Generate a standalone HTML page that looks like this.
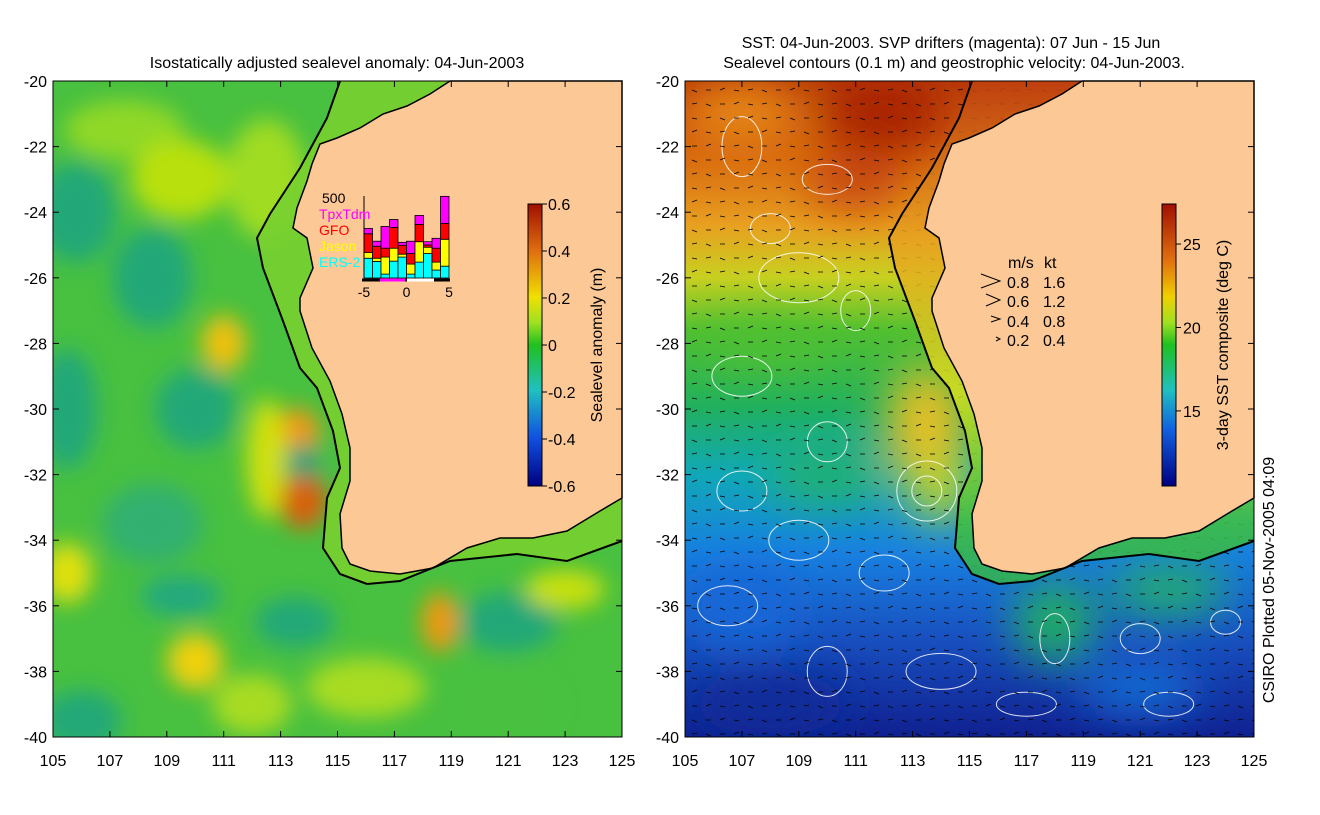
<!DOCTYPE html>
<html><head><meta charset="utf-8"><style>
body{margin:0;background:#fff;width:1320px;height:810px;overflow:hidden;font-family:"Liberation Sans",sans-serif}
svg text{font-family:"Liberation Sans",sans-serif}
</style></head><body>
<svg id="s" width="1320" height="810" viewBox="0 0 1320 810" xmlns="http://www.w3.org/2000/svg">
<defs>
<filter id="bl" x="-50%" y="-50%" width="200%" height="200%"><feGaussianBlur stdDeviation="11"/></filter>
<filter id="bl2" x="-50%" y="-50%" width="200%" height="200%"><feGaussianBlur stdDeviation="22"/></filter>
<linearGradient id="slaBar" x1="0" y1="0" x2="0" y2="1">
<stop offset="0" stop-color="#a01000"/><stop offset="0.17" stop-color="#e07010"/><stop offset="0.33" stop-color="#f0e000"/><stop offset="0.42" stop-color="#a0e020"/><stop offset="0.5" stop-color="#20c020"/><stop offset="0.66" stop-color="#20c0c0"/><stop offset="0.83" stop-color="#1050e0"/><stop offset="1" stop-color="#000080"/></linearGradient>
<linearGradient id="sstBar" x1="0" y1="0" x2="0" y2="1">
<stop offset="0" stop-color="#a01000"/><stop offset="0.2" stop-color="#e07010"/><stop offset="0.33" stop-color="#f0d000"/><stop offset="0.42" stop-color="#a0e020"/><stop offset="0.5" stop-color="#20c020"/><stop offset="0.66" stop-color="#20c0c0"/><stop offset="0.8" stop-color="#1060e0"/><stop offset="1" stop-color="#000080"/></linearGradient>
<linearGradient id="sstBg" x1="0" y1="0" x2="0" y2="1">
<stop offset="0" stop-color="#b83a08"/><stop offset="0.12" stop-color="#d86a10"/><stop offset="0.22" stop-color="#e8a020"/><stop offset="0.3" stop-color="#c8d020"/><stop offset="0.38" stop-color="#50c030"/><stop offset="0.5" stop-color="#20b060"/><stop offset="0.6" stop-color="#10a8b8"/><stop offset="0.72" stop-color="#1880e0"/><stop offset="0.85" stop-color="#1850c0"/><stop offset="1" stop-color="#102090"/></linearGradient>
<linearGradient id="shelfR" x1="0" y1="81" x2="0" y2="600" gradientUnits="userSpaceOnUse">
<stop offset="0" stop-color="#c04010"/><stop offset="0.3" stop-color="#e8a020"/><stop offset="0.6" stop-color="#d0e020"/><stop offset="0.85" stop-color="#40c040"/><stop offset="1" stop-color="#30b050"/></linearGradient>
<clipPath id="cl"><rect x="53" y="81" width="569" height="656"/></clipPath>
<clipPath id="cr"><rect x="685" y="81" width="569" height="656"/></clipPath>
</defs>
<text x="337" y="68" font-size="16" text-anchor="middle">Isostatically adjusted sealevel anomaly: 04-Jun-2003</text>
<text x="951" y="48" font-size="16" text-anchor="middle">SST: 04-Jun-2003. SVP drifters (magenta): 07 Jun - 15 Jun</text>
<text x="954" y="68" font-size="16" text-anchor="middle">Sealevel contours (0.1 m) and geostrophic velocity: 04-Jun-2003.</text>

<g clip-path="url(#cl)">
<rect x="53" y="81" width="569" height="656" fill="#48c040"/>
<g filter="url(#bl)" id="slaBlobs"></g>
</g>
<g clip-path="url(#cr)">
<rect x="685" y="81" width="569" height="656" fill="url(#sstBg)"/>
<g filter="url(#bl2)" id="sstBlobs"></g>
<g id="contours" fill="none" stroke="#fff" stroke-width="1" opacity="0.85"></g>
<g id="arrows" stroke="#000" stroke-width="1"></g>
</g>
<g id="coastL"></g><g id="coastR"></g>
<rect x="53" y="81" width="569" height="656" fill="none" stroke="#000"/>
<rect x="685" y="81" width="569" height="656" fill="none" stroke="#000"/>
<g id="axes" font-size="16"></g>
<g id="hist"></g>
<rect x="528" y="204" width="14" height="282" fill="url(#slaBar)" stroke="#000"/>
<rect x="1162" y="204" width="14" height="282" fill="url(#sstBar)" stroke="#000"/>
<g id="cbar" font-size="16"></g>
<text transform="translate(602,345) rotate(-90)" font-size="16" text-anchor="middle">Sealevel anomaly (m)</text>
<text transform="translate(1228,345) rotate(-90)" font-size="16" text-anchor="middle">3-day SST composite (deg C)</text>
<text transform="translate(1274,580) rotate(-90)" font-size="16" text-anchor="middle">CSIRO Plotted 05-Nov-2005 04:09</text>
<g id="vleg" font-size="16">
<text x="1008" y="268">m/s</text><text x="1044" y="268">kt</text>
<text x="1007" y="288">0.8</text><text x="1043" y="288">1.6</text>
<text x="1007" y="307">0.6</text><text x="1043" y="307">1.2</text>
<text x="1007" y="327">0.4</text><text x="1043" y="327">0.8</text>
<text x="1007" y="346">0.2</text><text x="1043" y="346">0.4</text>
<path d="M981 274 L1000 281 L981 288 M986 294 L1000 300 L986 306 M991 316 L1000 319 L991 322 M996 337 L1000 339 L996 341" fill="none" stroke="#000"/>
</g>
</svg>
<script>
const NS="http://www.w3.org/2000/svg";
const binLabels=[-5,0,5];
const ers2=[122,102,24,104,129,24,98,151,49,73];
const jason=[35,20,105,80,18,62,126,39,49,166];
const gfo=[116,74,55,128,55,65,107,14,86,98];
const tpx=[33,31,134,49,18,76,55,20,61,167];
const lonTicks=[105,107,109,111,113,115,117,119,121,123,125];
const latTicks=[-20,-22,-24,-26,-28,-30,-32,-34,-36,-38,-40];
const slaTicks=[0.6,0.4,0.2,0,-0.2,-0.4,-0.6];
const sstTicks=[25,20,15];
function mk(p,t,a){const e=document.createElementNS(NS,t);for(const k in a)e.setAttribute(k,a[k]);p.appendChild(e);return e;}
function X(lon,o){return 53+o+(lon-105)*28.45;}
function Y(lat){return 81+(-20-lat)*32.8;}
const ax=document.getElementById('axes');
[0,632].forEach(o=>{
 lonTicks.forEach(l=>{const t=mk(ax,'text',{x:X(l,o),y:766,'text-anchor':'middle'});t.textContent=l;
  
  
  mk(ax,'line',{x1:X(l,o),x2:X(l,o),y1:737,y2:731,stroke:'#000'});mk(ax,'line',{x1:X(l,o),x2:X(l,o),y1:81,y2:87,stroke:'#000'});});
 latTicks.forEach(l=>{const t=mk(ax,'text',{x:47+o,y:Y(l)+6,'text-anchor':'end'});t.textContent=l;
  
  
  mk(ax,'line',{x1:53+o,x2:59+o,y1:Y(l),y2:Y(l),stroke:'#000'});mk(ax,'line',{x1:616+o,x2:622+o,y1:Y(l),y2:Y(l),stroke:'#000'});});
});
const cb=document.getElementById('cbar');
slaTicks.forEach(v=>{const y=204+(0.6-v)/1.2*282;mk(cb,'line',{x1:542,x2:547,y1:y,y2:y,stroke:'#000'});
 const t=mk(cb,'text',{x:548,y:y+6});t.textContent=v===0?'0':(v>0?v.toFixed(1):'-'+(-v).toFixed(1));
 
 });
sstTicks.forEach(v=>{const y=204+(27.4-v)/16.9*282;mk(cb,'line',{x1:1176,x2:1181,y1:y,y2:y,stroke:'#000'});
 const t=mk(cb,'text',{x:1183,y:y+6});t.textContent=v;
 
 });
const sb=document.getElementById('slaBlobs');
const slaB=[[105.8,-24,40,50,'#20a878'],[107.5,-21.5,60,30,'#90d828'],[109.5,-23,50,40,'#b8e010'],[108.5,-26,40,50,'#20a878'],[105.5,-30,30,60,'#20a878'],[111,-28,22,28,'#f0c010'],[112.5,-23,40,60,'#a0dc20'],[110,-30,40,40,'#20a878'],[113.6,-30.7,22,24,'#f09818'],[113.8,-32.8,24,28,'#d86010'],[113.7,-31.6,20,16,'#10a080'],[112.5,-31.5,20,60,'#d0e010'],[108.5,-33.5,50,40,'#30b070'],[105.5,-35,25,30,'#e0e010'],[110,-37.7,28,28,'#f0d010'],[109.5,-35.7,40,20,'#20a880'],[118.6,-36.5,18,30,'#f09810'],[113.5,-36.5,40,25,'#20a878'],[121,-36.5,50,30,'#20a878'],[123,-35.5,40,20,'#c8e010'],[116,-38.5,60,30,'#a8dc20'],[106,-39.5,40,30,'#20a878'],[112,-39,40,30,'#a8dc20'],[121,-39,50,30,'#48c040']];
slaB.forEach(b=>{const e=mk(sb,'ellipse',{cx:X(b[0],0),cy:Y(b[1]),rx:b[2],ry:b[3],fill:b[4]});});
const st=document.getElementById('sstBlobs');
const sstB=[[107,-21,60,30,'#e88a18'],[112,-21,60,40,'#a82000'],[111,-23,50,30,'#c84a08'],[108,-28,70,20,'#50c030'],[113.5,-30.5,40,60,'#e8c020'],[114,-32.5,30,30,'#c8d820'],[110,-32,60,30,'#20b070'],[118,-36.5,40,40,'#20b060'],[122,-35.5,60,25,'#20b068'],[107,-36,60,40,'#1868d8'],[108,-39,80,30,'#0c2a98'],[121,-38.5,60,25,'#1870d8']];
sstB.forEach(b=>{const e=mk(st,'ellipse',{cx:X(b[0],632),cy:Y(b[1]),rx:b[2],ry:b[3],fill:b[4]});});
const ct=document.getElementById('contours');
const cts=[[107,-22,20,30],[110,-23,25,15],[109,-26,40,25],[111,-27,15,20],[107,-29,30,20],[110,-31,20,20],[107,-32.5,25,20],[113.5,-32.5,15,15],[113.5,-32.5,30,30],[109,-34,30,20],[112,-35,25,18],[106.5,-36,30,20],[110,-38,20,25],[114,-38,35,18],[118,-37,15,25],[121,-37,20,15],[124,-36.5,15,12],[117,-39,30,12],[122,-39,25,12],[108,-24.5,20,15]];
cts.forEach(c=>{const e=mk(ct,'ellipse',{cx:X(c[0],632),cy:Y(c[1]),rx:c[2],ry:c[3]});});
const ar=document.getElementById('arrows');let d='';
for(let y=90;y<737;y+=14)for(let x=692;x<1254;x+=14){d+=`M${x} ${y}l5 ${(x*7+y*3)%5-2}`;}
mk(ar,'path',{d:d,fill:'none','stroke-width':0.7});
const coast=[[450,81],[430,94],[407,106],[383,114],[360,128],[337,138],[320,144],[312,164],[307,181],[297,208],[293,228],[307,238],[313,268],[300,298],[300,311],[312,348],[330,381],[342,414],[350,448],[350,481],[340,514],[342,548],[350,564],[370,571],[400,574],[433,568],[467,548],[500,538],[533,538],[567,531],[600,511],[622,498]];
const iso=[[340,81],[327,118],[300,168],[270,214],[257,238],[263,268],[283,321],[300,368],[317,388],[333,431],[340,468],[327,498],[323,548],[340,574],[367,584],[400,581],[450,561],[517,554],[567,561],[622,541]];
[['coastL',0,'#78d030',0.9],['coastR',632,'url(#shelfR)',0.85]].forEach(([id,o,shelf,op])=>{
 const g=document.getElementById(id);
 const pts=iso.concat(coast.slice().reverse()).map(p=>(p[0]+o)+','+p[1]).join(' ');
 const sp=mk(g,'polygon',{points:pts,fill:shelf,opacity:op});
 
 const lp=mk(g,'polygon',{points:coast.map(p=>(p[0]+o)+','+p[1]).join(' ')+' '+(622+o)+',81',fill:'#fcc896',stroke:'#000','stroke-width':1.5});
 
 const il=mk(g,'polyline',{points:iso.map(p=>(p[0]+o)+','+p[1]).join(' '),fill:'none',stroke:'#000','stroke-width':2});
 
});
const h=document.getElementById('hist');
const hx0=364,hw=8.5,hb=278,hs=81/500;
const series=[[ers2,'#00ffff'],[jason,'#ffff00'],[gfo,'#ff0000'],[tpx,'#ff00ff']];
ers2.forEach((_,i)=>{let cum=0;series.forEach(([arr,col])=>{const v=arr[i];
 const r=mk(h,'rect',{x:hx0+i*hw,y:hb-(cum+v)*hs,width:hw,height:v*hs,fill:col,stroke:'#000','stroke-width':0.8});
 cum+=v;});});
mk(h,'line',{x1:364,x2:364,y1:196,y2:hb,stroke:'#000'});
mk(h,'line',{x1:362,x2:450,y1:hb+2,y2:hb+2,stroke:'#000','stroke-width':3});
mk(h,'line',{x1:380,x2:405,y1:hb+2,y2:hb+2,stroke:'#ff00ff','stroke-width':3});
mk(h,'line',{x1:407,x2:434,y1:hb+2,y2:hb+2,stroke:'#fff','stroke-width':3});
const ht=(x,y,s,c,a)=>{const t=mk(h,'text',{x:x,y:y,fill:c,'font-size':14,'text-anchor':a||'start'});t.textContent=s;
 };
ht(322,203,'500','#000');ht(319,219,'TpxTdm','#ff00ff');ht(319,235,'GFO','#ff0000');ht(319,251,'Jason','#ffff00');ht(319,267,'ERS-2','#00ffff');
binLabels.forEach(v=>ht(364+(v+5)*8.5,297,v,'#000','middle'));
</script>
</body></html>
